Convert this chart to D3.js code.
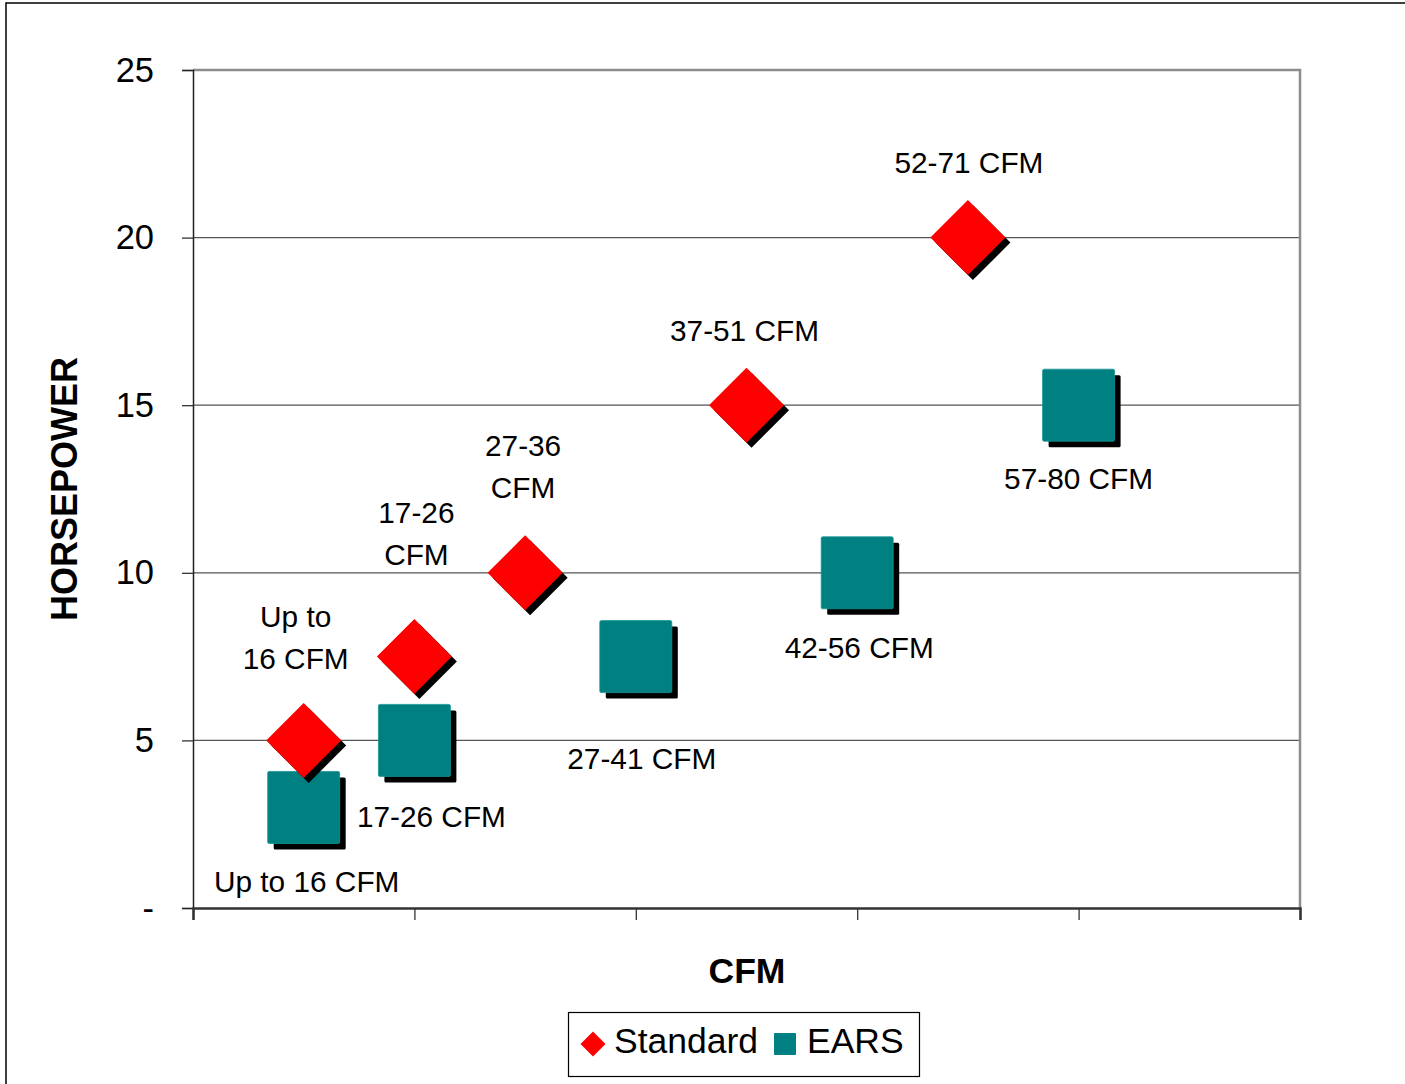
<!DOCTYPE html>
<html>
<head>
<meta charset="utf-8">
<script src="https://cdn.jsdelivr.net/npm/d3@7/dist/d3.min.js"></script>
<style>
  html, body { margin: 0; padding: 0; background: #fff; }
  svg { display: block; font-family: "Liberation Sans", Arial, sans-serif; }
</style>
</head>
<body>
<svg id="chart" width="1405" height="1084"></svg>
<script>
// Compressor size classes: position along the CFM axis and horsepower
const standardX = [0.5, 1.0, 1.5, 2.5, 3.5];
const standardHP = [5, 7.5, 10, 15, 20];
const standardLabels = [["Up to", "16 CFM"], ["17-26", "CFM"], ["27-36", "CFM"], ["37-51 CFM"], ["52-71 CFM"]];

const earsX = [0.5, 1.0, 2.0, 3.0, 4.0];
const earsHP = [3, 5, 7.5, 10, 15];
const earsLabels = [["Up to 16 CFM"], ["17-26 CFM"], ["27-41 CFM"], ["42-56 CFM"], ["57-80 CFM"]];

const yTicks = [0, 5, 10, 15, 20, 25];
const xTicks = [0, 1, 2, 3, 4, 5];
const seriesNames = ["Standard", "EARS"];

// Label placement nudges (px) relative to each marker
const standardLabelOffset = [[-8, -71], [2, -92], [-2, -75], [-2, -64], [1, -65]];
const earsLabelOffset = [[3, 85], [17, 87], [6, 112], [2, 85], [0, 84]];

const svg = d3.select("#chart");
const plotLeft = 193, plotRight = 1300, plotTop = 70, plotBottom = 908;

const x = d3.scaleLinear().domain([0, 5]).range([plotLeft, plotRight]);
const y = d3.scaleLinear().domain([0, 25]).range([plotBottom, plotTop]);

// outer frame
svg.append("rect").attr("x", 6).attr("y", 3).attr("width", 1420).attr("height", 1100)
  .attr("fill", "none").attr("stroke", "#000").attr("stroke-width", 1.5);

// gridlines
svg.append("g").selectAll("line").data(yTicks.filter(d => d > 0 && d < 25)).join("line")
  .attr("x1", plotLeft).attr("x2", plotRight)
  .attr("y1", d => y(d)).attr("y2", d => y(d))
  .attr("stroke", "#555").attr("stroke-width", 1.2);

// plot frame top & right
svg.append("path")
  .attr("d", `M${plotLeft},${plotTop}H${plotRight}V${plotBottom}`)
  .attr("fill", "none").attr("stroke", "#8c8c8c").attr("stroke-width", 2.5);

// y axis
const yAxis = d3.axisLeft(y).tickValues(yTicks).tickSize(11).tickPadding(28)
  .tickFormat(d => d === 0 ? "-" : d3.format("d")(d));
const gy = svg.append("g").attr("transform", `translate(${plotLeft},0)`).call(yAxis);
gy.select(".domain").attr("stroke", "#222").attr("stroke-width", 1.5);
gy.selectAll(".tick line").attr("stroke", "#222").attr("stroke-width", 1.2);
gy.selectAll(".tick text").attr("font-size", 34.5).attr("fill", "#000")
  .attr("font-family", "Liberation Sans, Arial, sans-serif");

// x axis
const xAxis = d3.axisBottom(x).tickValues(xTicks).tickSize(12).tickFormat("");
const gx = svg.append("g").attr("transform", `translate(0,${plotBottom})`).call(xAxis);
gx.select(".domain").attr("stroke", "#333").attr("stroke-width", 2.5);
gx.selectAll(".tick line").attr("stroke", "#333").attr("stroke-width", 1.3);

// axis titles
svg.append("text").attr("x", 747).attr("y", 983).attr("text-anchor", "middle")
  .attr("font-size", 35.5).attr("font-weight", "bold").text("CFM");
svg.append("text").attr("transform", "translate(77,489) rotate(-90)").attr("text-anchor", "middle")
  .attr("font-size", 36).attr("font-weight", "bold").text("HORSEPOWER");

// markers
const R = 37.5;   // diamond half-diagonal
const S = 72;     // square side
const diamond = (cx, cy, r) => `M${cx},${cy - r}L${cx + r},${cy}L${cx},${cy + r}L${cx - r},${cy}Z`;

const std = standardX.map((v, i) => ({ x: v, y: standardHP[i], label: standardLabels[i], off: standardLabelOffset[i] }));
const ears = earsX.map((v, i) => ({ x: v, y: earsHP[i], label: earsLabels[i], off: earsLabelOffset[i] }));

const gm = svg.append("g");
// EARS squares
ears.forEach(d => {
  const cx = x(d.x), cy = y(d.y);
  gm.append("rect").attr("x", cx - S / 2 + 6).attr("y", cy - S / 2 + 6)
    .attr("width", S).attr("height", S).attr("rx", 1.5).attr("fill", "#000");
  gm.append("rect").attr("x", cx - S / 2).attr("y", cy - S / 2)
    .attr("width", S).attr("height", S).attr("rx", 1.5)
    .attr("fill", "#008080").attr("stroke", "#1a9696").attr("stroke-width", 0.8);
});
// Standard diamonds
std.forEach(d => {
  const cx = x(d.x), cy = y(d.y);
  gm.append("path").attr("d", diamond(cx + 5, cy + 5, R)).attr("fill", "#000");
  gm.append("path").attr("d", diamond(cx, cy, R)).attr("fill", "#ff0000");
});

// data labels
const lineGap = 42;
const gl = svg.append("g").attr("font-size", 29.8).attr("fill", "#000").attr("text-anchor", "middle");
std.forEach(d => {
  const cx = x(d.x) + d.off[0], base = y(d.y) + d.off[1];
  const n = d.label.length;
  d.label.forEach((t, k) => {
    gl.append("text").attr("x", cx).attr("y", base - (n - 1 - k) * lineGap).text(t);
  });
});
ears.forEach(d => {
  const cx = x(d.x) + d.off[0], base = y(d.y) + d.off[1];
  d.label.forEach((t, k) => {
    gl.append("text").attr("x", cx).attr("y", base + k * lineGap).text(t);
  });
});

// legend
const lg = svg.append("g");
lg.append("rect").attr("x", 568.5).attr("y", 1012.5).attr("width", 351).attr("height", 64)
  .attr("fill", "#fff").attr("stroke", "#000").attr("stroke-width", 1.2);
lg.append("path").attr("d", diamond(593, 1044, 12.5)).attr("fill", "#ff0000");
lg.append("text").attr("x", 614).attr("y", 1053).attr("font-size", 35.5).text(seriesNames[0]);
lg.append("rect").attr("x", 774).attr("y", 1033).attr("width", 22).attr("height", 22)
  .attr("rx", 1).attr("fill", "#008080");
lg.append("text").attr("x", 807).attr("y", 1053).attr("font-size", 35.5).text(seriesNames[1]);
</script>
</body>
</html>
